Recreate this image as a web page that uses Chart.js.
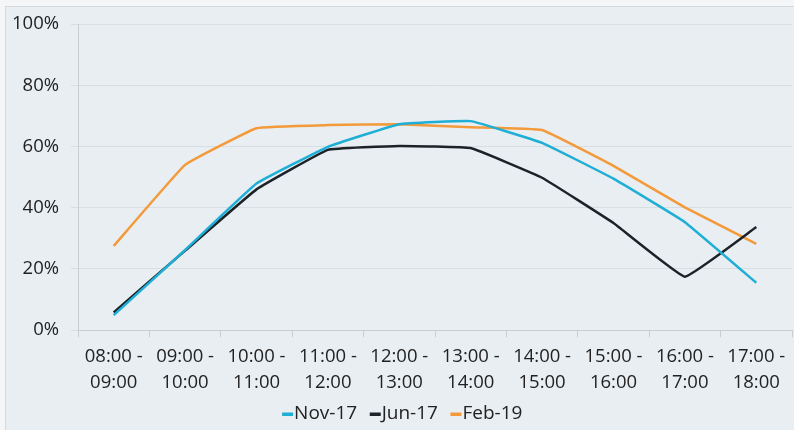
<!DOCTYPE html>
<html>
<head>
<meta charset="utf-8">
<script src="https://cdn.jsdelivr.net/npm/chart.js@4"></script>
<style>
  html, body { margin: 0; padding: 0; background: #f4f6f7; }
  #wrap { position: absolute; left: 5px; top: 6px; width: 800px; height: 430px;
          background: #e9eef2; border: 1px solid #d6dadd; box-sizing: border-box; }
  #c { position: absolute; left: -5px; top: -6px; }
</style>
</head>
<body>
<div id="wrap"><canvas id="c" width="794" height="430"></canvas></div>
<script>
//time slots on the x axis
var slots = [
  ['08:00 -', '09:00'], ['09:00 -', '10:00'], ['10:00 -', '11:00'], ['11:00 -', '12:00'],
  ['12:00 -', '13:00'], ['13:00 -', '14:00'], ['14:00 -', '15:00'], ['15:00 -', '16:00'],
  ['16:00 -', '17:00'], ['17:00 -', '18:00']
];

//series values in percent
var nov17 = [4.9, 26.2, 47.9, 59.9, 67.3, 68.3, 61.2, 49.5, 35.3, 15.5];
var jun17 = [5.8, 26.0, 46.0, 58.9, 60.2, 59.5, 49.8, 35.0, 17.5, 33.7];
var feb19 = [27.5, 54.0, 66.0, 67.0, 67.3, 66.3, 65.4, 53.7, 40.1, 28.2];

var yTicks = [0, 20, 40, 60, 80, 100];

var font = "'Open Sans', 'Liberation Sans', sans-serif";

//small legend marker: a short dash sitting right before the text
function legendDash(color) {
  var c = document.createElement('canvas');
  c.width = 33; c.height = 4;
  var g = c.getContext('2d');
  g.fillStyle = color;
  g.fillRect(21, 1, 11, 3);
  return c;
}

var ctx = document.getElementById('c').getContext('2d');
var chart = new Chart(ctx, {
  type: 'line',
  data: {
    labels: slots,
    datasets: [
      { label: 'Nov-17', data: nov17, borderColor: '#1eaed6', backgroundColor: '#1eaed6', pointStyle: legendDash('#1eaed6') },
      { label: 'Jun-17', data: jun17, borderColor: '#1c2228', backgroundColor: '#1c2228', pointStyle: legendDash('#1c2228') },
      { label: 'Feb-19', data: feb19, borderColor: '#f39a3b', backgroundColor: '#f39a3b', pointStyle: legendDash('#f39a3b') }
    ]
  },
  options: {
    responsive: false,
    animation: false,
    layout: { padding: { left: 0, right: 3, top: 22, bottom: -2 } },
    elements: {
      line: { borderWidth: 2.5, tension: 0.08 },
      point: { radius: 0 }
    },
    scales: {
      x: {
        offset: true,
        grid: { offset: true, drawOnChartArea: false, color: '#c8cdd1', tickLength: 7 },
        border: { color: '#c8cdd1' },
        ticks: { color: '#222', font: { family: font, size: 18.5, lineHeight: 1.4 }, maxRotation: 0, padding: 7 }
      },
      y: {
        min: 0, max: 100,
        afterBuildTicks: function(scale) {
          scale.ticks = yTicks.map(function(v) { return { value: v }; });
        },
        afterFit: function(scale) { scale.width = 77; },
        grid: { color: '#d9dee2', tickLength: 7 },
        border: { color: '#c8cdd1' },
        ticks: {
          color: '#222', font: { family: font, size: 18.5 }, padding: 12,
          callback: function(v) { return v + '%'; }
        }
      }
    },
    plugins: {
      legend: {
        position: 'bottom',
        labels: {
          usePointStyle: true, pointStyleWidth: 14, boxWidth: 14,
          color: '#222', font: { family: font, size: 19 }, padding: 1
        }
      },
      tooltip: { enabled: false }
    }
  }
});
</script>
</body>
</html>
